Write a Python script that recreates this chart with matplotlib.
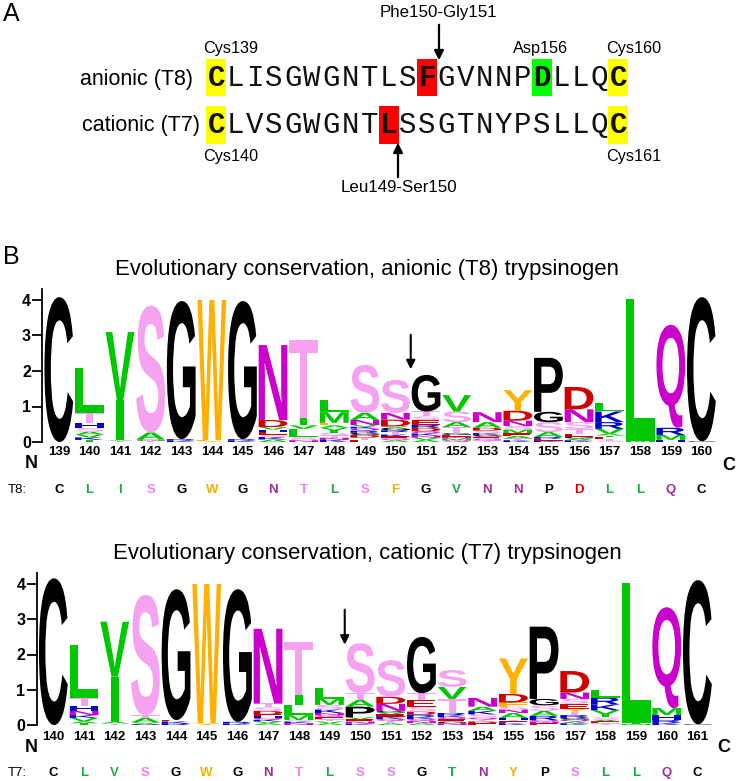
import matplotlib
matplotlib.use("Agg")
import matplotlib.pyplot as plt
from matplotlib.textpath import TextPath
from matplotlib.font_manager import FontProperties
from matplotlib.patches import PathPatch, Rectangle, FancyArrowPatch
from matplotlib.transforms import Affine2D, blended_transform_factory

W, H = 739, 781

# ---------------- data ----------------
seq_t8 = "CLISGWGNTLSFGVNNPDLLQC"
seq_t7 = "CLVSGWGNTLSSGTNYPSLLQC"
pos_t8 = list(range(139, 161))
pos_t7 = list(range(140, 162))

# stacks: list of (letter, height in bits), bottom -> top
logo_t8 = [
    [("C", 4.08)],
    [("I", 0.06), ("K", 0.07), ("V", 0.08), ("A", 0.08), ("S", 0.1), ("H", 0.14), ("T", 0.3), ("L", 1.25)],
    [("T", 0.03), ("A", 0.02), ("I", 1.13), ("V", 1.92)],
    [("T", 0.04), ("G", 0.03), ("A", 0.2), ("S", 3.57)],
    [("K", 0.04), ("R", 0.04), ("G", 3.89)],
    [("Y", 0.03), ("F", 0.02), ("W", 3.95)],
    [("K", 0.04), ("R", 0.04), ("G", 3.89)],
    [("A", 0.07), ("K", 0.07), ("S", 0.07), ("E", 0.07), ("H", 0.07), ("V", 0.07), ("D", 0.2), ("N", 2.11)],
    [("N", 0.05), ("S", 0.09), ("L", 0.23), ("V", 0.1), ("I", 0.2), ("T", 2.2)],
    [("K", 0.06), ("N", 0.06), ("T", 0.07), ("S", 0.07), ("I", 0.07), ("V", 0.07), ("A", 0.07), ("F", 0.07),
     ("M", 0.3), ("L", 0.34)],
    [("E", 0.06), ("T", 0.06), ("D", 0.08), ("G", 0.06), ("R", 0.06), ("Q", 0.06), ("K", 0.05), ("V", 0.05),
     ("N", 0.14), ("A", 0.2), ("S", 1.35)],
    [("A", 0.05), ("Q", 0.05), ("E", 0.06), ("K", 0.05), ("T", 0.07), ("R", 0.05), ("G", 0.07), ("V", 0.04),
     ("D", 0.19), ("N", 0.19), ("S", 0.93)],
    [("A", 0.06), ("V", 0.06), ("N", 0.06), ("K", 0.06), ("Q", 0.06), ("D", 0.1), ("R", 0.08),
     ("E", 0.14), ("S", 0.1), ("T", 0.14), ("G", 1.03)],
    [("Q", 0.05), ("M", 0.05), ("N", 0.05), ("E", 0.05), ("G", 0.05), ("T", 0.17), ("A", 0.14),
     ("S", 0.3), ("V", 0.46)],
    [("T", 0.05), ("Q", 0.05), ("E", 0.05), ("G", 0.05), ("K", 0.05), ("S", 0.07), ("D", 0.08),
     ("A", 0.16), ("N", 0.28)],
    [("K", 0.05), ("T", 0.05), ("A", 0.07), ("E", 0.08), ("M", 0.1), ("S", 0.1), ("N", 0.15),
     ("D", 0.28), ("Y", 0.58)],
    [("K", 0.04), ("E", 0.05), ("R", 0.05), ("A", 0.14), ("S", 0.28), ("G", 0.29), ("P", 1.52)],
    [("K", 0.05), ("A", 0.05), ("G", 0.05), ("E", 0.08), ("T", 0.14), ("S", 0.19), ("N", 0.36), ("D", 0.63)],
    [("S", 0.04), ("T", 0.05), ("E", 0.05), ("I", 0.04), ("A", 0.05), ("V", 0.14), ("R", 0.19),
     ("K", 0.3), ("L", 0.24)],
    [("M", 0.04), ("L", 3.99)],
    [("H", 0.06), ("M", 0.14), ("R", 0.2), ("Q", 2.9)],
    [("G", 0.02), ("C", 4.06)],
]

logo_t7 = [
    [("C", 4.16)],
    [("I", 0.05), ("A", 0.05), ("V", 0.1), ("K", 0.08), ("N", 0.12), ("H", 0.14), ("T", 0.24), ("L", 1.49)],
    [("T", 0.04), ("A", 0.05), ("I", 1.28), ("V", 1.56)],
    [("G", 0.03), ("V", 0.04), ("A", 0.13), ("T", 0.08), ("S", 3.41)],
    [("R", 0.05), ("K", 0.05), ("E", 0.04), ("G", 3.71)],
    [("Y", 0.05), ("W", 3.95)],
    [("K", 0.04), ("R", 0.05), ("G", 3.76)],
    [("A", 0.05), ("V", 0.05), ("K", 0.05), ("Q", 0.05), ("H", 0.05), ("E", 0.05), ("D", 0.1),
     ("S", 0.1), ("T", 0.11), ("N", 2.12)],
    [("N", 0.05), ("K", 0.05), ("S", 0.04), ("M", 0.14), ("L", 0.3), ("I", 0.28), ("T", 1.5)],
    [("A", 0.05), ("V", 0.05), ("T", 0.06), ("E", 0.06), ("Q", 0.06), ("N", 0.06), ("K", 0.1),
     ("S", 0.13), ("M", 0.18), ("L", 0.3)],
    [("K", 0.04), ("N", 0.06), ("E", 0.06), ("V", 0.06), ("P", 0.3), ("A", 0.19), ("T", 0.19), ("S", 1.42)],
    [("A", 0.05), ("T", 0.06), ("Q", 0.06), ("K", 0.06), ("E", 0.07), ("V", 0.05), ("G", 0.05),
     ("N", 0.2), ("D", 0.2), ("S", 1.04)],
    [("A", 0.05), ("N", 0.06), ("Q", 0.06), ("K", 0.06), ("R", 0.07), ("D", 0.08), ("S", 0.14),
     ("E", 0.18), ("T", 0.2), ("G", 1.6)],
    [("N", 0.05), ("G", 0.05), ("E", 0.06), ("Q", 0.06), ("K", 0.06), ("R", 0.06), ("T", 0.4),
     ("V", 0.34), ("S", 0.48)],
    [("E", 0.05), ("D", 0.05), ("T", 0.05), ("Q", 0.05), ("S", 0.1), ("K", 0.1), ("A", 0.12), ("N", 0.25)],
    [("K", 0.05), ("E", 0.05), ("T", 0.05), ("H", 0.05), ("A", 0.14), ("N", 0.1), ("S", 0.08),
     ("F", 0.12), ("D", 0.24), ("Y", 1.01)],
    [("E", 0.05), ("N", 0.05), ("Q", 0.04), ("R", 0.12), ("A", 0.14), ("S", 0.16), ("G", 0.18), ("P", 2.05)],
    [("K", 0.05), ("A", 0.05), ("Q", 0.05), ("G", 0.05), ("R", 0.08), ("T", 0.1), ("Y", 0.08),
     ("E", 0.14), ("S", 0.14), ("N", 0.18), ("D", 0.61)],
    [("T", 0.05), ("E", 0.05), ("A", 0.05), ("S", 0.07), ("I", 0.08), ("V", 0.12), ("K", 0.16),
     ("R", 0.2), ("L", 0.22)],
    [("M", 0.03), ("I", 0.04), ("L", 3.97)],
    [("K", 0.06), ("R", 0.08), ("H", 0.14), ("M", 0.2), ("Q", 2.86)],
    [("G", 0.02), ("C", 4.09)],
]

title_t8 = "Evolutionary conservation, anionic (T8) trypsinogen"
title_t7 = "Evolutionary conservation, cationic (T7) trypsinogen"

# ---------------- styles ----------------
logo_colors = {}
for c in "CGP":
    logo_colors[c] = "#000000"
for c in "WYF":
    logo_colors[c] = "#FFB000"
for c in "LIVMA":
    logo_colors[c] = "#00C800"
for c in "ST":
    logo_colors[c] = "#F5A3F0"
for c in "NQ":
    logo_colors[c] = "#CC00CC"
for c in "DE":
    logo_colors[c] = "#D00000"
for c in "KRH":
    logo_colors[c] = "#0000CC"

row_colors = {"C": "#000000", "G": "#000000", "P": "#000000",
              "L": "#1AAA4A", "I": "#1AAA4A", "V": "#1AAA4A", "T": "#F080F0",
              "S": "#F080F0", "W": "#F5B000", "F": "#F5B000", "Y": "#F5B000",
              "N": "#A0309A", "Q": "#A0309A", "D": "#E00000"}
# in the T7 row the T at position 153 is printed green
row_override_t7 = {13: "#1AAA4A"}

fig = plt.figure(figsize=(W / 100, H / 100), dpi=100)


def fx(px):
    return px / W


def fy(py):
    return 1 - py / H


SANS = "Liberation Sans"
bold_fp = FontProperties(family=SANS, weight="bold")

# ---------------- Panel A ----------------
fig.text(fx(3), fy(14), "A", fontsize=18, family=SANS, va="center", ha="left")

step = 19.14
x0c = 216.5
rows = [(seq_t8, 78, 59, 96), (seq_t7, 125, 106, 144)]
highlights = [
    (0, 0, "#FFFF00"), (0, 11, "#FF0000"), (0, 17, "#00FF00"), (0, 21, "#FFFF00"),
    (1, 0, "#FFFF00"), (1, 9, "#FF0000"), (1, 21, "#FFFF00"),
]
hl_set = {(r, k) for r, k, _ in highlights}
for r, k, col in highlights:
    seq, yc, yt, yb = rows[r]
    cx = x0c + step * k
    fig.patches.append(Rectangle((fx(cx - 10), fy(yb)), 20 / W, (yb - yt) / H,
                                 transform=fig.transFigure, facecolor=col,
                                 edgecolor="none", zorder=0))
for r, (seq, yc, yt, yb) in enumerate(rows):
    for k, ch in enumerate(seq):
        cx = x0c + step * k
        bold = (r, k) in hl_set
        fig.text(fx(cx), fy(yc), ch, fontsize=21, family="Liberation Mono",
                 weight="bold" if bold else "normal", ha="center", va="center",
                 color="#111111")

fig.text(fx(193), fy(79), "anionic (T8)", fontsize=15.5, family=SANS,
         ha="right", va="center")
fig.text(fx(200), fy(125), "cationic (T7)", fontsize=15.5, family=SANS,
         ha="right", va="center")

lab_fs = 11.7
fig.text(fx(231), fy(49), "Cys139", fontsize=lab_fs, family=SANS, ha="center", va="center")
fig.text(fx(231), fy(157), "Cys140", fontsize=lab_fs, family=SANS, ha="center", va="center")
fig.text(fx(541), fy(48), "Asp156", fontsize=lab_fs, family=SANS, ha="center", va="center")
fig.text(fx(634), fy(48), "Cys160", fontsize=lab_fs, family=SANS, ha="center", va="center")
fig.text(fx(634), fy(157), "Cys161", fontsize=lab_fs, family=SANS, ha="center", va="center")
fig.text(fx(438), fy(12), "Phe150-Gly151", fontsize=12.2, family=SANS, ha="center", va="center")
fig.text(fx(399), fy(188), "Leu149-Ser150", fontsize=12.2, family=SANS, ha="center", va="center")

fig.patches.append(FancyArrowPatch(
    (fx(439), fy(22)), (fx(439), fy(63)), transform=fig.transFigure,
    arrowstyle="-|>", mutation_scale=14, lw=1.6, color="black"))
fig.patches.append(FancyArrowPatch(
    (fx(398), fy(180)), (fx(398), fy(140)), transform=fig.transFigure,
    arrowstyle="-|>", mutation_scale=14, lw=1.6, color="black"))

# ---------------- Panel B ----------------
fig.text(fx(3), fy(257), "B", fontsize=18, family=SANS, va="center", ha="left")

letter_paths = {}


def glyph(ch):
    if ch not in letter_paths:
        tp = TextPath((0, 0), ch, size=1, prop=bold_fp)
        letter_paths[ch] = (tp, tp.get_extents())
    return letter_paths[ch]


def draw_logo(ax, stacks):
    width = 0.94
    for i, stack in enumerate(stacks):
        ybase = 0.0
        for ch, h in stack:
            tp, bb = glyph(ch)
            w = width
            if ch == "I":
                w = 0.25
            tr = (Affine2D().translate(-bb.x0, -bb.y0)
                  .scale(w / bb.width, h / bb.height)
                  .translate(i - w / 2, ybase))
            ax.add_patch(PathPatch(tp, transform=tr + ax.transData,
                                   facecolor=logo_colors[ch], edgecolor="none", lw=0))
            ybase += h


def setup_logo(ax, positions, stacks, seq, overrides, rowlabel, rowy, labely, ny, cy,
               cx_px, title, titley, arrow_x, arrow_y):
    ax.set_xlim(-0.55, 21.55)
    ax.set_ylim(0, 4.32)
    for s in ["top", "right", "bottom"]:
        ax.spines[s].set_visible(False)
    ax.spines["left"].set_linewidth(1.3)
    ax.set_yticks([0, 1, 2, 3, 4])
    ax.set_yticklabels(["0", "1", "2", "3", "4"], fontsize=11.5, fontweight="bold",
                       family=SANS)
    ax.tick_params(axis="y", length=7, width=1.3, pad=1)
    ax.set_xticks([])
    ax.patch.set_alpha(0)
    draw_logo(ax, stacks)
    bt = blended_transform_factory(ax.transData, fig.transFigure)
    for i, p in enumerate(positions):
        ax.text(i, fy(labely), str(p), transform=bt, ha="center", va="center",
                fontsize=9.5, fontweight="bold", family=SANS)
    for i, ch in enumerate(seq):
        ax.text(i, fy(rowy), ch, transform=bt, ha="center", va="center",
                fontsize=9.5, fontweight="bold", family=SANS,
                color=overrides.get(i, row_colors.get(ch, "#000000")))
    fig.text(fx(8), fy(rowy), rowlabel, fontsize=9.5, family=SANS, ha="left", va="center")
    fig.text(fx(31), fy(ny), "N", fontsize=13, fontweight="bold", family=SANS,
             ha="center", va="center")
    fig.text(fx(cx_px), fy(cy), "C", fontsize=13, fontweight="bold", family=SANS,
             ha="center", va="center")
    fig.text(fx(367), fy(titley), title, fontsize=15.9, family=SANS,
             ha="center", va="center")
    ax.annotate("", xy=(arrow_x, arrow_y[1]), xytext=(arrow_x, arrow_y[0]),
                arrowprops=dict(arrowstyle="-|>", lw=1.5, color="black",
                                mutation_scale=13))


def add_axes_px(left, right, top, bottom):
    return fig.add_axes([fx(left), fy(bottom), (right - left) / W, (bottom - top) / H])


# logo 1
ax1 = add_axes_px(42, 42 + 22.1 * 30.6, 442 - 4.32 * 35.5, 442)
setup_logo(ax1, pos_t8, logo_t8, seq_t8, {}, "T8:", 490, 452, 463, 465, 729,
           title_t8, 270, 11.5, (3.1, 1.97))

# logo 2
ax2 = add_axes_px(36.5, 36.5 + 22.1 * 30.67, 725 - 4.32 * 35.25, 725)
setup_logo(ax2, pos_t7, logo_t7, seq_t7, row_override_t7, "T7:", 773, 737, 748, 748, 724,
           title_t7, 553, 9.5, (3.35, 2.2))

fig.savefig("out.png", dpi=100)
